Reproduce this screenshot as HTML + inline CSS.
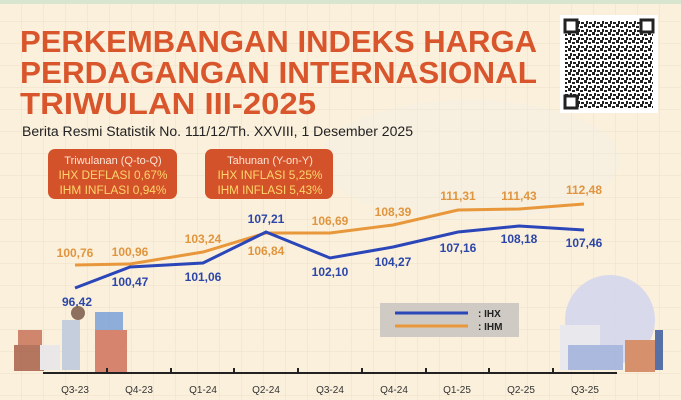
<!DOCTYPE html>
<html><head><meta charset="utf-8"><style>
html,body{margin:0;padding:0;background:#fbf0dc;}
svg{display:block;font-family:"Liberation Sans",sans-serif;}
</style></head><body>
<svg width="681" height="400" viewBox="0 0 681 400" xmlns="http://www.w3.org/2000/svg">
<defs>
<pattern id="g" width="22" height="22" patternUnits="userSpaceOnUse">
<path d="M22 0V22M0 22H22" stroke="#ece0c8" stroke-width="1" fill="none"/>
</pattern>
<pattern id="qr" width="8" height="8" patternUnits="userSpaceOnUse">
<rect x="0" y="0" width="3" height="3" fill="#222"/><rect x="4" y="2" width="3" height="2" fill="#222"/><rect x="2" y="5" width="2" height="3" fill="#222"/><rect x="5" y="6" width="3" height="2" fill="#222"/>
</pattern>
</defs>
<rect width="681" height="400" fill="#fbf0dc"/>
<rect width="681" height="400" fill="url(#g)"/>
<rect x="0" y="0" width="681" height="4" fill="#d8e6cf"/>
<ellipse cx="470" cy="160" rx="150" ry="60" fill="#eef0ea" opacity="0.3"/>
<g fill="#d9552b" font-weight="bold" font-size="31">
<text x="20" y="52" textLength="517" lengthAdjust="spacingAndGlyphs">PERKEMBANGAN INDEKS HARGA</text>
<text x="20" y="83" textLength="517" lengthAdjust="spacingAndGlyphs">PERDAGANGAN INTERNASIONAL</text>
<text x="20" y="114" textLength="296" lengthAdjust="spacingAndGlyphs">TRIWULAN III-2025</text>
</g>
<text x="22" y="136" font-size="13.5" fill="#222" textLength="391" lengthAdjust="spacingAndGlyphs">Berita Resmi Statistik No. 111/12/Th. XXVIII, 1 Desember 2025</text>
<rect x="560" y="15" width="98" height="98" fill="#fff"/>
<rect x="565" y="20" width="88" height="88" fill="url(#qr)"/>
<rect x="565" y="20" width="12" height="12" fill="#fff" stroke="#222" stroke-width="3"/>
<rect x="641" y="20" width="12" height="12" fill="#fff" stroke="#222" stroke-width="3"/>
<rect x="565" y="96" width="12" height="12" fill="#fff" stroke="#222" stroke-width="3"/>
<g font-size="11.5" text-anchor="middle">
<rect x="48" y="149" width="129" height="50" rx="7" fill="#d4522a"/>
<text x="113" y="164" fill="#fde6d6" font-size="11">Triwulanan (Q-to-Q)</text>
<text x="113" y="179" fill="#ffd56a" textLength="109" lengthAdjust="spacingAndGlyphs">IHX DEFLASI 0,67%</text>
<text x="113" y="194" fill="#ffd56a" textLength="107" lengthAdjust="spacingAndGlyphs">IHM INFLASI 0,94%</text>
<rect x="205" y="149" width="128" height="50" rx="7" fill="#d4522a"/>
<text x="270" y="164" fill="#fde6d6" font-size="11">Tahunan (Y-on-Y)</text>
<text x="270" y="179" fill="#ffd56a" textLength="105" lengthAdjust="spacingAndGlyphs">IHX INFLASI 5,25%</text>
<text x="270" y="194" fill="#ffd56a" textLength="105" lengthAdjust="spacingAndGlyphs">IHM INFLASI 5,43%</text>
</g>
<polyline fill="none" stroke="#e8973a" stroke-width="3" points="75,265 130,264 203,252 266,233 330,233 393,225 458,210 519,209 584,204"/>
<polyline fill="none" stroke="#2b46b8" stroke-width="3" points="75,288 130,267 203,263 266,232 330,258 393,247 458,232 519,226 584,230"/>
<g font-size="12" font-weight="bold" text-anchor="middle" fill="#2b46a8">
<text x="77" y="306">96,42</text><text x="130" y="286">100,47</text><text x="203" y="281">101,06</text>
<text x="266" y="223">107,21</text><text x="330" y="276">102,10</text><text x="393" y="266">104,27</text>
<text x="458" y="252">107,16</text><text x="519" y="243">108,18</text><text x="584" y="247">107,46</text>
</g>
<g font-size="12" font-weight="bold" text-anchor="middle" fill="#e0953e">
<text x="75" y="257">100,76</text><text x="130" y="256">100,96</text><text x="203" y="243">103,24</text>
<text x="266" y="255">106,84</text><text x="330" y="225">106,69</text><text x="393" y="216">108,39</text>
<text x="458" y="200">111,31</text><text x="519" y="200">111,43</text><text x="584" y="194">112,48</text>
</g>
<rect x="380" y="303" width="139" height="34" fill="#cfcbc4"/>
<line x1="395" y1="313" x2="468" y2="313" stroke="#2b46b8" stroke-width="3"/>
<line x1="395" y1="326" x2="468" y2="326" stroke="#e8973a" stroke-width="3"/>
<text x="478" y="317" font-size="10" font-weight="bold" fill="#222">: IHX</text>
<text x="478" y="330" font-size="10" font-weight="bold" fill="#222">: IHM</text>
<g opacity="0.85">
<rect x="14" y="345" width="30" height="26" fill="#a8614a"/><rect x="18" y="330" width="24" height="15" fill="#c8745a"/>
<rect x="95" y="330" width="32" height="42" fill="#d0725a"/><rect x="95" y="312" width="28" height="18" fill="#7ba2d8"/>
<rect x="62" y="320" width="18" height="50" fill="#bcc9dc"/><circle cx="78" cy="313" r="7" fill="#7a5a48"/>
<rect x="40" y="345" width="20" height="25" fill="#e6e6ea"/>
<circle cx="610" cy="320" r="45" fill="#d4d6ef"/>
<rect x="560" y="325" width="40" height="45" fill="#e6e8f0"/>
<rect x="568" y="345" width="55" height="25" fill="#9fb0e0"/>
<rect x="625" y="340" width="30" height="32" fill="#d08058"/>
<rect x="655" y="330" width="8" height="40" fill="#3b5ba0"/>
</g>
<line x1="43" y1="373" x2="617" y2="373" stroke="#222" stroke-width="2"/>
<g stroke="#222" stroke-width="2">
<line x1="107" y1="368" x2="107" y2="373"/><line x1="171" y1="368" x2="171" y2="373"/><line x1="234" y1="368" x2="234" y2="373"/><line x1="298" y1="368" x2="298" y2="373"/><line x1="362" y1="368" x2="362" y2="373"/><line x1="426" y1="368" x2="426" y2="373"/><line x1="489" y1="368" x2="489" y2="373"/><line x1="553" y1="368" x2="553" y2="373"/>
</g>
<g font-size="10" text-anchor="middle" fill="#333">
<text x="75" y="393">Q3-23</text><text x="139" y="393">Q4-23</text><text x="203" y="393">Q1-24</text><text x="266" y="393">Q2-24</text><text x="330" y="393">Q3-24</text><text x="394" y="393">Q4-24</text><text x="457" y="393">Q1-25</text><text x="521" y="393">Q2-25</text><text x="585" y="393">Q3-25</text>
</g>
</svg>
</body></html>
